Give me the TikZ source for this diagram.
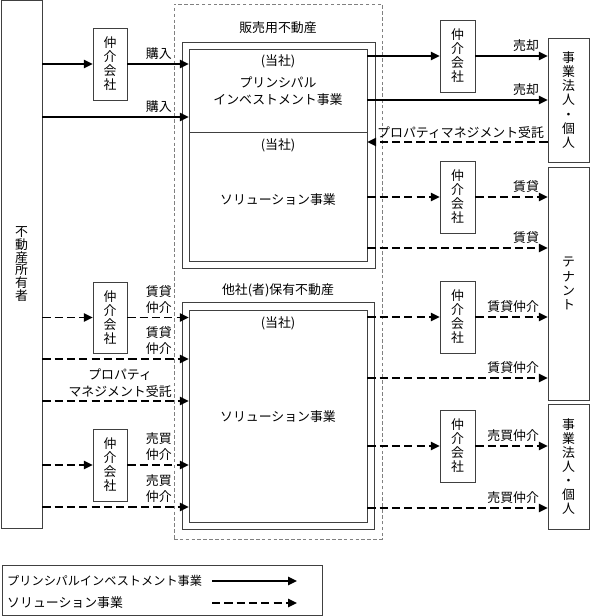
\documentclass[tikz,border=0pt]{standalone}
\usepackage{fontspec}
\setmainfont{Noto Sans CJK JP}
\usetikzlibrary{arrows.meta}

\begin{document}
\begin{tikzpicture}[x=0.03cm, y=-0.03cm,
	box/.style={draw=black!75, line width=0.6pt, inner sep=0pt, align=center},
	sz/.style 2 args={minimum width=#1*0.03cm, minimum height=#2*0.03cm},
	vtext/.style={font=\fontsize{11}{12}\selectfont},
	txt/.style={font=\fontsize{11}{14.5}\selectfont, align=center, inner sep=0pt},
	lab/.style={anchor=south east, inner sep=1.5pt, yshift=0.06cm, font=\fontsize{11}{14}\selectfont, align=center},
	piarrow/.style={line width=1.4pt, -{Triangle[length=7.5pt,width=7pt]}},
	solarrow/.style={piarrow, dash pattern=on 7pt off 3.5pt}]
	\useasboundingbox (0,0) rectangle (590,616);
	%% property boxes
	\node[box, sz={208}{535}, draw=gray, dash pattern=on 3pt off 2pt] (frame) at (278,271.5) {};
	\node[box, sz={193}{226}] (saleout) at (278.5,155) {};
	\node[box, sz={178}{83}] (pi) at (278,90.5) {};
	\node[box, sz={178}{129}] (sol1) at (278,196.5) {};
	\node[box, sz={192}{227}] (ownout) at (278,415.5) {};
	\node[box, sz={178}{212}] (sol2) at (278,416) {};
	\node[txt] (title1) at (278,28) {販売用不動産};
	\node[txt] (co1) at (278,61) {(当社)};
	\node[txt] (piname) at (278,91.5) {プリンシパル\\インベストメント事業};
	\node[txt] (co2) at (278,145) {(当社)};
	\node[txt] (solname1) at (278,200) {ソリューション事業};
	\node[txt] (title2) at (278,290) {他社(者)保有不動産};
	\node[txt] (co3) at (278,323) {(当社)};
	\node[txt] (solname2) at (278,417) {ソリューション事業};
	%% parties
	\node[box, font=\fontsize{11}{10.8}\selectfont, sz={41}{528}] (owner) at (21.5,264) {不\\動\\産\\所\\有\\者};
	\node[box, vtext, sz={41}{124}] (corp1) at (568.5,100) {事\\業\\法\\人\\・\\個\\人};
	\node[box, vtext, sz={41}{233}] (tenant) at (568.5,283.5) {テ\\ナ\\ン\\ト};
	\node[box, vtext, sz={41}{125}] (corp2) at (568.5,466.5) {事\\業\\法\\人\\・\\個\\人};
	%% agents
	\node[box, vtext, sz={34}{72}] (agL1) at (110,64) {仲\\介\\会\\社};
	\node[box, vtext, sz={34}{71}] (agL2) at (110,317.5) {仲\\介\\会\\社};
	\node[box, vtext, sz={34}{72}] (agL3) at (110,465) {仲\\介\\会\\社};
	\node[box, vtext, sz={35}{72}] (agR1) at (457.5,56) {仲\\介\\会\\社};
	\node[box, vtext, sz={35}{72}] (agR2) at (457.5,197) {仲\\介\\会\\社};
	\node[box, vtext, sz={35}{72}] (agR3) at (457.5,317) {仲\\介\\会\\社};
	\node[box, vtext, sz={35}{72}] (agR4) at (457.5,446) {仲\\介\\会\\社};
	%% levels of the direct flows
	\coordinate (buy2) at (0,117);
	\coordinate (sell2) at (0,100);
	\coordinate (pm1) at (0,142);
	\coordinate (rent2) at (0,248);
	\coordinate (rb2) at (0,378);
	\coordinate (sb2) at (0,508);
	\coordinate (lr2) at (0,359);
	\coordinate (lpm) at (0,401);
	\coordinate (ls2) at (0,507);
	%% left flows
	\draw[piarrow] (agL1 -| owner.east) -- (agL1.west);
	\draw[piarrow] (agL1.east) -- (agL1 -| pi.west);
	\node[lab] (lbuy1) at (agL1 -| frame.west) {購入};
	\draw[piarrow] (buy2 -| owner.east) -- (buy2 -| pi.west);
	\node[lab] (lbuy2) at (buy2 -| frame.west) {購入};
	\draw[solarrow] (agL2 -| owner.east) -- (agL2.west);
	\draw[solarrow] (agL2.east) -- (agL2 -| sol2.west);
	\node[lab] (llease1) at (agL2 -| frame.west) {賃貸\\仲介};
	\draw[solarrow] (lr2 -| owner.east) -- (lr2 -| sol2.west);
	\node[lab] (llease2) at (lr2 -| frame.west) {賃貸\\仲介};
	\draw[solarrow] (lpm -| owner.east) -- (lpm -| sol2.west);
	\node[lab] (lpmlab) at (lpm -| frame.west) {プロパティ\\マネジメント受託};
	\draw[solarrow] (agL3 -| owner.east) -- (agL3.west);
	\draw[solarrow] (agL3.east) -- (agL3 -| sol2.west);
	\node[lab] (ltrade1) at (agL3 -| frame.west) {売買\\仲介};
	\draw[solarrow] (ls2 -| owner.east) -- (ls2 -| sol2.west);
	\node[lab] (ltrade2) at (ls2 -| frame.west) {売買\\仲介};
	%% right flows
	\draw[piarrow] (agR1 -| pi.east) -- (agR1.west);
	\draw[piarrow] (agR1.east) -- (agR1 -| corp1.west);
	\node[lab, xshift=-0.2cm] (rsell1) at (agR1 -| corp1.west) {売却};
	\draw[piarrow] (sell2 -| pi.east) -- (sell2 -| corp1.west);
	\node[lab, xshift=-0.2cm] (rsell2) at (sell2 -| corp1.west) {売却};
	\draw[solarrow] (pm1 -| corp1.west) -- (pm1 -| sol1.east);
	\node[lab, xshift=-0.05cm] (rpm) at (pm1 -| corp1.west) {プロパティマネジメント受託};
	\draw[solarrow] (agR2 -| sol1.east) -- (agR2.west);
	\draw[solarrow] (agR2.east) -- (agR2 -| tenant.west);
	\node[lab, xshift=-0.2cm] (rrent1) at (agR2 -| tenant.west) {賃貸};
	\draw[solarrow] (rent2 -| sol1.east) -- (rent2 -| tenant.west);
	\node[lab, xshift=-0.2cm] (rrent2) at (rent2 -| tenant.west) {賃貸};
	\draw[solarrow] (agR3 -| sol2.east) -- (agR3.west);
	\draw[solarrow] (agR3.east) -- (agR3 -| tenant.west);
	\node[lab, xshift=-0.2cm] (rlease1) at (agR3 -| tenant.west) {賃貸仲介};
	\draw[solarrow] (rb2 -| sol2.east) -- (rb2 -| tenant.west);
	\node[lab, xshift=-0.2cm] (rlease2) at (rb2 -| tenant.west) {賃貸仲介};
	\draw[solarrow] (agR4 -| sol2.east) -- (agR4.west);
	\draw[solarrow] (agR4.east) -- (agR4 -| corp2.west);
	\node[lab, xshift=-0.2cm] (rtrade1) at (agR4 -| corp2.west) {売買仲介};
	\draw[solarrow] (sb2 -| sol2.east) -- (sb2 -| corp2.west);
	\node[lab, xshift=-0.2cm] (rtrade2) at (sb2 -| corp2.west) {売買仲介};
	%% legend
	\node[box, sz={320}{50}] (legend) at (162,590) {};
	\node[txt, anchor=west, font=\fontsize{10.4}{12}\selectfont] (lgpi) at (7,581) {プリンシパルインベストメント事業};
	\node[txt, anchor=west] (lgsol) at (7,603) {ソリューション事業};
	\coordinate (lgs) at (212,0);
	\coordinate (lge) at (297,0);
	\draw[piarrow] (lgpi -| lgs) -- (lgpi -| lge);
	\draw[solarrow] (lgsol -| lgs) -- (lgsol -| lge);
\end{tikzpicture}
\end{document}
